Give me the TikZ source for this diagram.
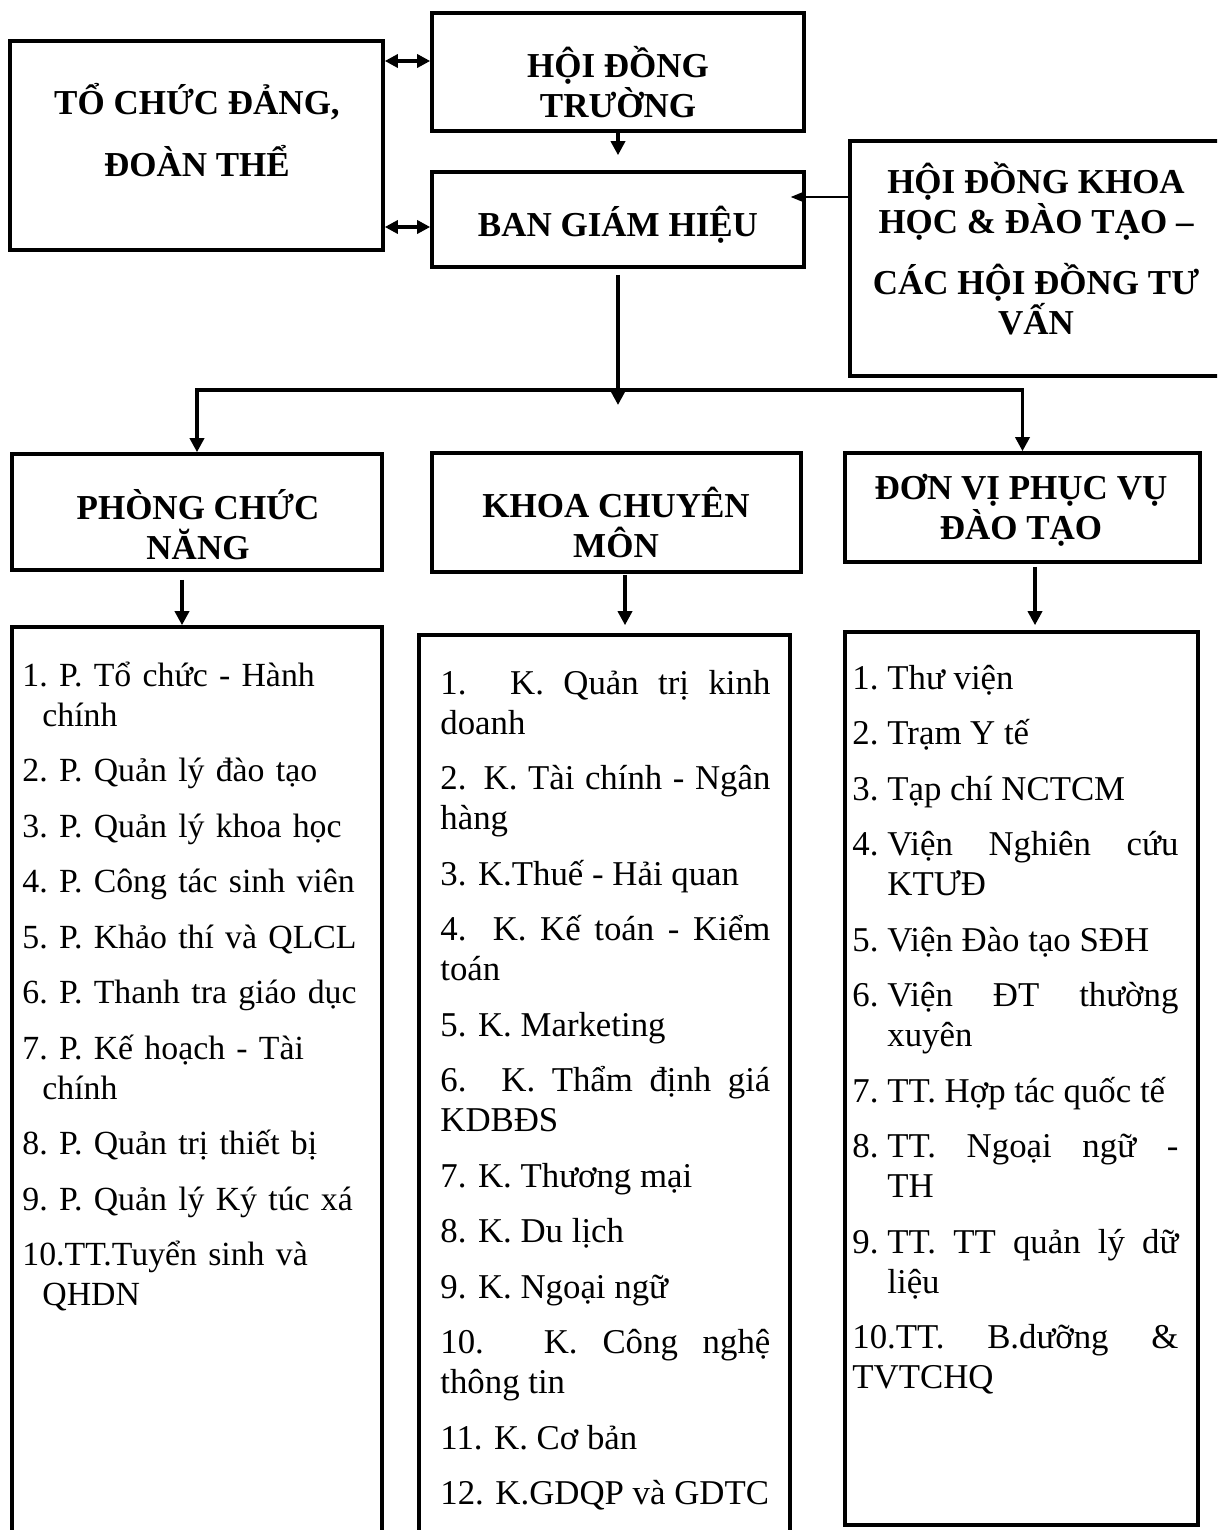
\documentclass[tikz,border=0pt]{standalone}
\usepackage{fontspec}
\setmainfont{Liberation Serif}
\usetikzlibrary{arrows.meta}

\hyphenpenalty=10000
\exhyphenpenalty=10000

% Mục trong các danh sách
\newcommand{\mucTrai}[1]{\hangindent=10pt\hangafter=1 #1\par}
\newcommand{\mucGiua}[1]{#1\par}
\newcommand{\mucPhai}[2]{\hangindent=17.5pt\hangafter=1 \makebox[17.5pt][l]{#1}#2\par}

\begin{document}
\begin{tikzpicture}[x=0.5pt, y=-0.5pt,
  khung/.style={draw, line width=1.8pt, inner sep=0pt},
  tieude/.style={font=\fontsize{17.5}{20}\selectfont\bfseries, align=center, inner sep=0pt},
  danhsach/.style={font=\fontsize{17.4}{20}\selectfont, inner sep=0pt, anchor=base west},
  muiten/.style={line width=1.7pt, -{Triangle[length=7pt,width=7pt]}},
  muitenhai/.style={line width=1.7pt, {Triangle[length=6.5pt,width=6.5pt]}-{Triangle[length=6.5pt,width=6.5pt]}},
  nhanh/.style={line width=1.7pt, {Triangle[length=7pt,width=7pt]}-{Triangle[length=7pt,width=7pt]}},
  muitenmanh/.style={line width=0.6pt, -{Triangle[length=7.5pt,width=6pt]}}]

% 1 px cua hinh goc
\def\px{0.5pt}

\useasboundingbox (0,0) rectangle (1217,1530);
\clip (0,0) rectangle (1217,1530);

% Khung hang tren
\node[khung, minimum width=373*\px, minimum height=209*\px] (toChuc) at (196.5,145.5) {};
\node[khung, minimum width=372*\px, minimum height=118*\px] (hdTruong) at (618,72) {};
\node[khung, minimum width=372*\px, minimum height=95*\px] (bgh) at (618,219.5) {};
\node[khung, minimum width=372*\px, minimum height=235*\px] (hdKhoaHoc) at (1036,258.5) {};

% Khung hang giua
\node[khung, minimum width=370*\px, minimum height=116*\px] (pcn) at (197,512) {};
\node[khung, minimum width=369*\px, minimum height=119*\px] (kcm) at (616.5,512.5) {};
\node[khung, minimum width=355*\px, minimum height=109*\px] (dvpv) at (1022.5,507.5) {};

% Khung danh sach (hai khung dau bi cat o day)
\node[khung, minimum width=370*\px, minimum height=933*\px] (dsPhong) at (197,1093.5) {};
\node[khung, minimum width=371*\px, minimum height=925*\px] (dsKhoa) at (604.5,1097.5) {};
\node[khung, minimum width=353*\px, minimum height=893*\px] (dsDonVi) at (1021.5,1078.5) {};

% Tieu de
\node[tieude, font=\fontsize{17.5}{31}\selectfont\bfseries] (txtToChuc) at (197,130) {TỔ CHỨC ĐẢNG,\\ĐOÀN THỂ};
\node[tieude] (txtHdTruong) at (618,82) {HỘI ĐỒNG\\TRƯỜNG};
\node[tieude] (txtBgh) at (618,225) {BAN GIÁM HIỆU};
\node[tieude] (txtHdKhoaHoc) at (1036,249) {HỘI ĐỒNG KHOA\\HỌC \& ĐÀO TẠO –\\[10.5pt]CÁC HỘI ĐỒNG TƯ\\VẤN};
\node[tieude] (txtPcn) at (198,525) {PHÒNG CHỨC\\NĂNG};
\node[tieude] (txtKcm) at (616,522.5) {KHOA CHUYÊN\\MÔN};
\node[tieude] (txtDvpv) at (1021,510) {ĐƠN VỊ PHỤC VỤ\\ĐÀO TẠO};

% Mui ten hang tren
\draw[muitenhai] ([yshift=5.5pt]hdTruong.west -| toChuc.east) -- ([yshift=5.5pt]hdTruong.west);
\draw[muitenhai] ([yshift=-3.75pt]bgh.west -| toChuc.east) -- ([yshift=-3.75pt]bgh.west);
\draw[muiten] (hdTruong.south) -- ([yshift=7.5pt]bgh.north);
\draw[muitenmanh] ([yshift=11.25pt]bgh.east -| hdKhoaHoc.west) -- ([xshift=-7.5pt,yshift=11.25pt]bgh.east);

% Re nhanh xuong ba khoi
\coordinate (reNhanh) at (618,390);
\draw[muiten] ([yshift=-3pt]bgh.south) -- ([yshift=-7.5pt]reNhanh);
\draw[nhanh] (pcn.north) |- (reNhanh) -| (dvpv.north);

% Mui ten xuong danh sach
\draw[muiten] ([xshift=-7.5pt,yshift=-4pt]pcn.south) -- ([xshift=-7.5pt]pcn.south |- dsPhong.north);
\draw[muiten] ([xshift=4.25pt,yshift=-0.5pt]kcm.south) -- ([xshift=4.25pt,yshift=4pt]kcm.south |- dsKhoa.north);
\draw[muiten] ([xshift=6.25pt,yshift=-1.5pt]dvpv.south) -- ([xshift=6.25pt,yshift=2.5pt]dvpv.south |- dsDonVi.north);

% Danh sach phong chuc nang
\node[danhsach, font=\fontsize{16.9}{20}\selectfont, text width=180pt, align=left] (ndPhong) at (22,686) {%
\raggedright\frenchspacing\setlength{\parskip}{7.75pt}%
\mucTrai{1. P. Tổ chức - Hành\newline chính}%
\mucTrai{2. P. Quản lý đào tạo}%
\mucTrai{3. P. Quản lý khoa học}%
\mucTrai{4. P. Công tác sinh viên}%
\mucTrai{5. P. Khảo thí và QLCL}%
\mucTrai{6. P. Thanh tra giáo dục}%
\mucTrai{7. P. Kế hoạch - Tài\newline chính}%
\mucTrai{8. P. Quản trị thiết bị}%
\mucTrai{9. P. Quản lý Ký túc xá}%
\mucTrai{10.TT.Tuyển sinh và\newline QHDN}};

% Danh sach khoa chuyen mon
\node[danhsach, text width=165pt, align=justify] (ndKhoa) at (440,694) {%
\setlength{\parskip}{7.75pt}%
\mucGiua{1. K. Quản trị kinh\linebreak doanh}%
\mucGiua{2. K. Tài chính - Ngân\linebreak hàng}%
\mucGiua{3. K.Thuế - Hải quan}%
\mucGiua{4. K. Kế toán - Kiểm\linebreak toán}%
\mucGiua{5. K. Marketing}%
\mucGiua{6. K. Thẩm định giá\linebreak KDBĐS}%
\mucGiua{7. K. Thương mại}%
\mucGiua{8. K. Du lịch}%
\mucGiua{9. K. Ngoại ngữ}%
\mucGiua{10. K. Công nghệ\linebreak thông tin}%
\mucGiua{11. K. Cơ bản}%
\mucGiua{\mbox{12. K.GDQP và GDTC}}};

% Danh sach don vi phuc vu
\node[danhsach, text width=163pt, align=justify] (ndDonVi) at (852,689) {%
\setlength{\parskip}{7.75pt}%
\mucPhai{1.}{Thư viện}%
\mucPhai{2.}{Trạm Y tế}%
\mucPhai{3.}{Tạp chí NCTCM}%
\mucPhai{4.}{Viện Nghiên cứu\linebreak KTƯĐ}%
\mucPhai{5.}{Viện Đào tạo SĐH}%
\mucPhai{6.}{Viện ĐT thường\linebreak xuyên}%
\mucPhai{7.}{\mbox{TT. Hợp tác quốc tế}}%
\mucPhai{8.}{TT. Ngoại ngữ -\linebreak TH}%
\mucPhai{9.}{TT. TT quản lý dữ\linebreak liệu}%
\mucGiua{10.TT. B.dưỡng \&\linebreak TVTCHQ}};

\end{tikzpicture}
\end{document}
